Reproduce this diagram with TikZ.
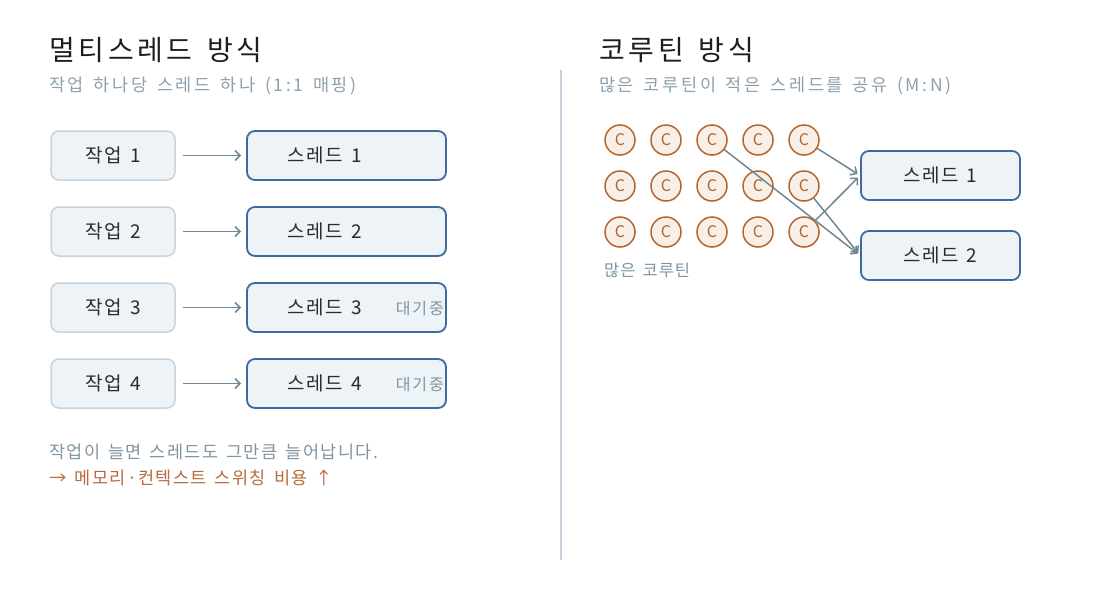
\documentclass[tikz,border=0pt]{standalone}
\usepackage{fontspec}
\setmainfont{Noto Sans CJK KR}[Kerning=Off, WordSpace=1.5]
\newfontfamily\lsnorm[Kerning=Off, WordSpace=1.5, LetterSpace=7]{Noto Sans CJK KR}
\newfontfamily\lswait[Kerning=Off, WordSpace=1.5, LetterSpace=12]{Noto Sans CJK KR}
\newfontfamily\lsmany[Kerning=Off, WordSpace=1.5, LetterSpace=6]{Noto Sans CJK KR}
\newfontfamily\lstitle[Kerning=Off, WordSpace=1.5, LetterSpace=13]{Noto Sans CJK KR}
\newfontfamily\lssub[Kerning=Off, WordSpace=1.5, LetterSpace=15]{Noto Sans CJK KR}
\newfontfamily\lsfoot[Kerning=Off, WordSpace=1.5, LetterSpace=8]{Noto Sans CJK KR}
\usetikzlibrary{arrows.meta}
\definecolor{titlecol}{HTML}{1E1E1E}
\definecolor{subcol}{HTML}{8CA0AD}
\definecolor{textcol}{HTML}{2A2A2A}
\definecolor{waitcol}{HTML}{7F95A3}
\definecolor{arrowcol}{HTML}{6F8793}
\definecolor{boxfill}{HTML}{EEF3F7}
\definecolor{taskline}{HTML}{C8D3DB}
\definecolor{thrline}{HTML}{3E6B9F}
\definecolor{corofill}{HTML}{F8EFE6}
\definecolor{coroline}{HTML}{B5652E}
\definecolor{warncol}{HTML}{B9693B}
\definecolor{divcol}{HTML}{C5D2DD}
\tikzset{
  titletext/.style={anchor=west, inner sep=0pt, text=titlecol, font=\lstitle\fontsize{28}{32}\selectfont},
  subtext/.style={anchor=west, inner sep=0pt, text=subcol, font=\lssub\fontsize{17.5}{20}\selectfont},
  taskbox/.style={draw=taskline, line width=1.5pt, fill=boxfill, rounded corners=8pt, minimum width=124pt, minimum height=49pt, inner sep=0pt, text=textcol, font=\lsnorm\fontsize{19}{22}\selectfont},
  threadbox/.style={draw=thrline, line width=1.8pt, fill=boxfill, rounded corners=8pt, minimum height=49pt, inner sep=0pt},
  boxtext/.style={inner sep=0pt, text=textcol, font=\lsnorm\fontsize{19}{22}\selectfont},
  waittext/.style={anchor=east, inner sep=0pt, text=waitcol, font=\lswait\fontsize{16}{18}\selectfont},
  flow/.style={draw=arrowcol, line width=1.5pt, -{Straight Barb[length=5pt,width=10pt]}},
  coro/.style={circle, draw=coroline, line width=1.5pt, fill=corofill, minimum size=30pt, inner sep=0pt, text=coroline, font=\fontsize{16}{18}\selectfont},
  foot/.style={anchor=west, inner sep=0pt, font=\lsfoot\fontsize{17.5}{20}\selectfont},
}
\begin{document}
\begin{tikzpicture}[x=1pt,y=-1pt]
\useasboundingbox[fill=white] (0,0) rectangle (1120,600);
% divider
\coordinate (dtop) at (561,70);
\coordinate (dbot) at (561,560);
\draw[divcol, line width=1.5pt] (dtop) -- (dbot);
% left side
\node[titletext] (ltitle) at (49,50) {멀티스레드 방식};
\node[subtext] (lsub) at (49,86) {작업 하나당 스레드 하나 (1:1 매핑)};
\foreach \i/\y in {1/155.5,2/231.5,3/307.5,4/383.5}{
  \node[taskbox] (t\i) at (113,\y) {작업 \i};
  \node[threadbox, minimum width=199pt] (s\i) at (346.5,\y) {};
  \node[boxtext] (sl\i) at (325,\y) {스레드 \i};
  \draw[flow, shorten <=7pt, shorten >=5pt] (t\i) -- (s\i);
}
\node[waittext] (w3) at (444,309) {대기중};
\node[waittext] (w4) at (444,385) {대기중};
\node[foot, text=waitcol] (f1) at (49,452) {작업이 늘면 스레드도 그만큼 늘어납니다.};
\node[foot, text=warncol] (f2) at (49,478) {→ 메모리·컨텍스트 스위칭 비용 ↑};
% right side
\node[titletext] (rtitle) at (599,50) {코루틴 방식};
\node[subtext] (rsub) at (599,86) {많은 코루틴이 적은 스레드를 공유 (M:N)};
\foreach \r/\y in {1/140,2/186,3/232}{
  \foreach \c/\x in {1/620,2/666,3/712,4/758,5/804}{
    \node[coro] (c\r\c) at (\x,\y) {C};
  }
}
\node[anchor=west, inner sep=0pt, text=waitcol, font=\lsmany\fontsize{16.5}{19}\selectfont] (many) at (604,270) {많은 코루틴};
\node[threadbox, minimum width=159pt] (r1) at (940.5,175.5) {};
\node[boxtext] at (r1) {스레드 1};
\node[threadbox, minimum width=159pt] (r2) at (940.5,255.5) {};
\node[boxtext] at (r2) {스레드 2};
\draw[flow, shorten >=3pt] (c13) -- (r2.west);
\draw[flow, shorten >=3pt] (c15) -- (r1.west);
\draw[flow, shorten >=3pt] (c25) -- (r2.west);
\draw[flow, shorten >=3pt] (c35) -- (r1.west);
\end{tikzpicture}
\end{document}
